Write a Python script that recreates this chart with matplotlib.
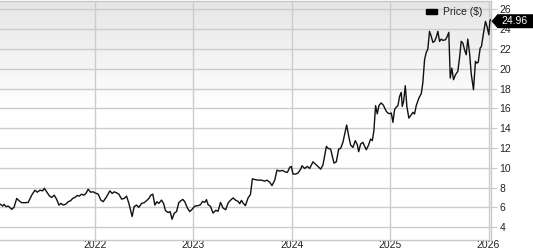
import matplotlib
matplotlib.use("Agg")
import matplotlib.pyplot as plt
import matplotlib.transforms as mtransforms
from matplotlib.patches import Patch, Polygon
import numpy as np

plt.rcParams['font.family'] = ['Liberation Sans', 'DejaVu Sans']

# ---- data (decimal years, price in $) ----
years = [
    2021.035, 2021.062, 2021.076, 2021.096, 2021.119, 2021.154, 2021.177, 2021.205, 2021.228, 2021.255,
    2021.289, 2021.322, 2021.357, 2021.390, 2021.414, 2021.441, 2021.469, 2021.485, 2021.509, 2021.536,
    2021.560, 2021.586, 2021.611, 2021.634, 2021.654, 2021.678, 2021.705, 2021.728, 2021.753, 2021.773,
    2021.796, 2021.820, 2021.840, 2021.864, 2021.888, 2021.908, 2021.931, 2021.956, 2021.982, 2021.999,
    2022.033, 2022.060, 2022.084, 2022.118, 2022.152, 2022.175, 2022.195, 2022.220, 2022.243, 2022.271,
    2022.297, 2022.321, 2022.345, 2022.378, 2022.398, 2022.423, 2022.446, 2022.474, 2022.500, 2022.524,
    2022.548, 2022.568, 2022.588, 2022.609, 2022.629, 2022.649, 2022.677, 2022.697, 2022.717, 2022.744,
    2022.764, 2022.784, 2022.805, 2022.829, 2022.852, 2022.873, 2022.893, 2022.913, 2022.941, 2022.964,
    2022.987, 2023.015, 2023.048, 2023.073, 2023.093, 2023.116, 2023.133, 2023.150, 2023.174, 2023.200,
    2023.228, 2023.251, 2023.276, 2023.302, 2023.329, 2023.353, 2023.377, 2023.404, 2023.431, 2023.454,
    2023.472, 2023.489, 2023.505, 2023.529, 2023.556, 2023.580, 2023.600, 2023.624, 2023.657, 2023.692,
    2023.725, 2023.749, 2023.776, 2023.799, 2023.827, 2023.850, 2023.878, 2023.905, 2023.939, 2023.956,
    2023.979, 2023.996, 2024.013, 2024.037, 2024.063, 2024.091, 2024.104, 2024.131, 2024.159, 2024.182,
    2024.216, 2024.240, 2024.266, 2024.294, 2024.317, 2024.334, 2024.352, 2024.368, 2024.395, 2024.419,
    2024.429, 2024.453, 2024.477, 2024.497, 2024.520, 2024.545, 2024.558, 2024.578, 2024.598, 2024.622,
    2024.646, 2024.667, 2024.680, 2024.700, 2024.723, 2024.741, 2024.758, 2024.781, 2024.801, 2024.819,
    2024.835, 2024.852, 2024.869, 2024.886, 2024.908, 2024.933, 2024.944, 2024.961, 2024.977, 2024.994,
    2025.012, 2025.028, 2025.045, 2025.062, 2025.079, 2025.096, 2025.113, 2025.123, 2025.137, 2025.154,
    2025.170, 2025.190, 2025.215, 2025.231, 2025.248, 2025.265, 2025.292, 2025.316, 2025.332, 2025.350,
    2025.367, 2025.383, 2025.400, 2025.418, 2025.434, 2025.451, 2025.469, 2025.485, 2025.502, 2025.519,
    2025.536, 2025.563, 2025.580, 2025.596, 2025.611, 2025.627, 2025.644, 2025.664, 2025.688, 2025.705,
    2025.722, 2025.739, 2025.756, 2025.773, 2025.789, 2025.807, 2025.824, 2025.847, 2025.867, 2025.881,
    2025.895, 2025.915, 2025.928, 2025.949, 2025.969, 2025.986, 2026.003, 2026.013, 2026.020,
]
prices = [
    6.33, 6.13, 6.30, 6.07, 6.13, 5.80, 6.00, 6.90, 6.67, 6.47,
    6.47, 6.50, 7.23, 7.73, 7.53, 7.73, 7.67, 7.93, 7.57, 7.17,
    7.00, 7.23, 6.80, 6.23, 6.40, 6.23, 6.33, 6.57, 6.67, 6.90,
    7.00, 7.20, 7.13, 7.33, 7.23, 7.40, 7.83, 7.53, 7.57, 7.47,
    7.33, 6.73, 6.57, 7.07, 7.67, 7.40, 7.57, 7.47, 7.33, 6.83,
    6.90, 7.13, 6.40, 5.07, 6.07, 6.23, 6.00, 6.40, 6.47, 6.67,
    6.90, 7.23, 7.33, 6.23, 6.57, 6.40, 6.73, 6.40, 5.67, 5.47,
    5.57, 4.80, 5.40, 5.57, 6.47, 6.67, 6.80, 6.57, 5.90, 5.57,
    5.80, 6.13, 6.17, 6.27, 6.60, 6.50, 6.78, 6.27, 6.10, 5.42,
    5.70, 5.60, 6.50, 5.93, 5.76, 6.44, 6.71, 6.95, 6.71, 6.61,
    6.37, 6.71, 6.44, 6.17, 6.95, 7.29, 8.88, 8.81, 8.75, 8.75,
    8.64, 8.75, 8.54, 8.20, 8.75, 9.76, 9.66, 9.73, 9.56, 9.53,
    10.03, 10.14, 9.36, 9.36, 9.46, 9.86, 10.20, 9.93, 10.14, 9.93,
    10.60, 10.37, 10.14, 9.86, 10.27, 11.20, 12.16, 11.96, 11.89, 10.88,
    10.47, 10.60, 11.89, 11.96, 12.57, 13.75, 14.32, 13.24, 12.30, 12.06,
    12.74, 12.30, 11.62, 12.40, 12.57, 12.16, 11.82, 12.30, 12.90, 12.74,
    13.75, 16.28, 15.44, 16.28, 16.55, 16.30, 16.03, 15.70, 15.53, 15.46,
    15.53, 14.59, 15.87, 16.13, 16.27, 17.21, 17.62, 16.20, 16.71, 18.29,
    16.20, 15.02, 15.36, 15.60, 15.43, 16.27, 17.04, 17.48, 18.56, 20.92,
    21.66, 21.99, 23.78, 23.27, 22.67, 22.77, 23.20, 23.78, 22.77, 23.00,
    22.87, 22.94, 23.27, 23.68, 19.06, 20.07, 18.90, 19.40, 19.74, 21.08,
    22.77, 22.60, 21.93, 21.42, 23.00, 21.59, 19.50, 17.89, 20.75, 20.58,
    20.65, 22.09, 22.26, 23.61, 24.79, 24.22, 23.44, 24.79, 24.96,
]
year_ticks = [2022, 2023, 2024, 2025, 2026]
price_ticks = [4, 6, 8, 10, 12, 14, 16, 18, 20, 22, 24, 26]
series_label = "Price ($)"
last_label = "24.96"

# ---- figure ----
fig = plt.figure(figsize=(5.33, 2.5), dpi=100)
ax = fig.add_axes([0.0, 0.04, 491 / 533, 0.958])

ax.set_xlim(2021.035, 2026.025)
ax.set_ylim(2.7, 26.9)

# background gradient (light gray at top fading to white)
n = 256
t = np.linspace(0, 1, n)  # 0 bottom, 1 top
frac = np.clip((t - 0.55) / 0.45, 0, 1)
shade = 1.0 - 0.10 * frac
grad = np.dstack([shade, shade, shade]).reshape(n, 1, 3)
ax.imshow(grad, extent=[0, 1, 0, 1], transform=ax.transAxes, aspect='auto',
          origin='lower', zorder=0, interpolation='bilinear')

ax.set_xticks(year_ticks)
ax.set_xticklabels([str(y) for y in year_ticks])
ax.set_yticks(price_ticks)
ax.yaxis.tick_right()
ax.grid(True, color='#cccccc', linewidth=1.0, zorder=1)
ax.set_axisbelow(True)

for side in ['top', 'right', 'bottom']:
    ax.spines[side].set_color('#c8c8c8')
    ax.spines[side].set_linewidth(1.0)
ax.spines['left'].set_visible(False)

ax.tick_params(axis='x', length=0, pad=0, labelsize=7.5, labelcolor='#222222')
ax.tick_params(axis='y', length=4, width=0.8, color='#c8c8c8', pad=2,
               labelsize=7.5, labelcolor='#222222')

ax.plot(years, prices, color='#111111', linewidth=1.0, zorder=3)

# legend
leg = ax.legend(handles=[Patch(facecolor='black', edgecolor='black', label=series_label)],
                loc='center right', bbox_to_anchor=(0.982, 0.952), frameon=False,
                fontsize=7.5, handlelength=1.0, handleheight=0.4, handletextpad=0.58,
                borderaxespad=0.0, borderpad=0.0)
for txt in leg.get_texts():
    txt.set_color('#222222')

# last value tag (arrow-shaped, anchored at the last price on the right axis)
trans = mtransforms.blended_transform_factory(ax.transAxes, ax.transData)
anchor = mtransforms.ScaledTranslation(1.0, prices[-1], trans)
tag = Polygon([(0.5, -1.5), (6.5, 5.5), (45, 5.5), (45, -8.5), (6.5, -8.5)],
              closed=True, facecolor='black', edgecolor='none',
              transform=mtransforms.Affine2D() + anchor, clip_on=False, zorder=10)
ax.add_patch(tag)
ax.annotate(last_label, xy=(1.0, prices[-1]), xycoords=trans,
            xytext=(10.5, -1.5), textcoords='offset pixels',
            ha='left', va='center', fontsize=7.5, color='white',
            zorder=11, annotation_clip=False)

fig.savefig('out.png', dpi=100)
